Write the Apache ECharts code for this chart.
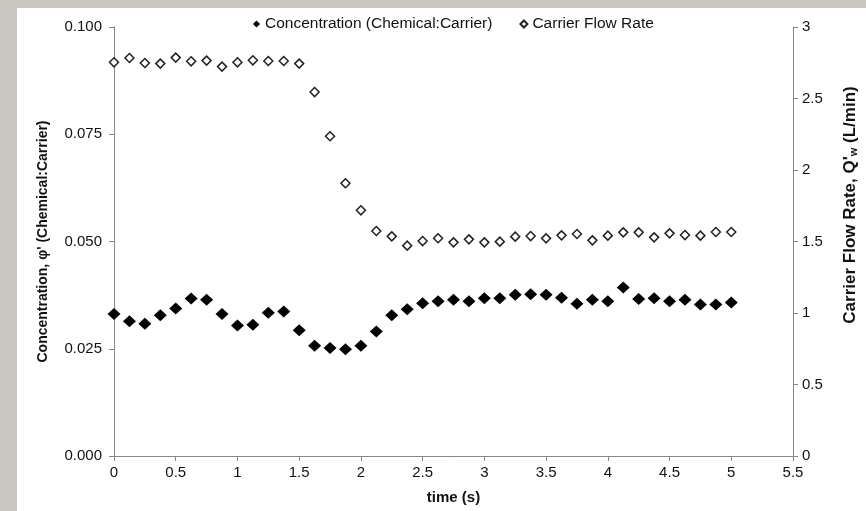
<!DOCTYPE html>
<html>
<head>
<meta charset="utf-8">
<script src="https://cdn.jsdelivr.net/npm/echarts@6/dist/echarts.min.js"></script>
<style>
  html, body { margin: 0; padding: 0; background: #cac6c1; }
  #main { width: 866px; height: 511px; }
</style>
</head>
<body>
<div id="main"></div>
<script>
var times = [0, 0.125, 0.25, 0.375, 0.5, 0.625, 0.75, 0.875, 1, 1.125, 1.25, 1.375, 1.5, 1.625,
    1.75, 1.875, 2, 2.125, 2.25, 2.375, 2.5, 2.625, 2.75, 2.875, 3, 3.125, 3.25, 3.375, 3.5,
    3.625, 3.75, 3.875, 4, 4.125, 4.25, 4.375, 4.5, 4.625, 4.75, 4.875, 5];

var concentration = [0.0331, 0.0314, 0.0308, 0.0328, 0.0344, 0.0367, 0.0364, 0.0331, 0.0304, 0.0306,
    0.0334, 0.0337, 0.0293, 0.0257, 0.0252, 0.0249, 0.0257, 0.0290, 0.0328, 0.0342,
    0.0356, 0.0361, 0.0364, 0.0361, 0.0368, 0.0368, 0.0376, 0.0377, 0.0376, 0.0369,
    0.0355, 0.0364, 0.0361, 0.0393, 0.0366, 0.0368, 0.0361, 0.0364, 0.0353, 0.0353, 0.0358];

var flowRate = [2.753, 2.783, 2.748, 2.744, 2.786, 2.760, 2.765, 2.723, 2.753, 2.767,
    2.762, 2.762, 2.744, 2.545, 2.236, 1.907, 1.718, 1.573, 1.536, 1.471,
    1.503, 1.523, 1.494, 1.515, 1.494, 1.499, 1.534, 1.538, 1.522, 1.543,
    1.552, 1.508, 1.541, 1.564, 1.564, 1.529, 1.557, 1.545, 1.541, 1.566, 1.566];

var seriesNames = ['Concentration (Chemical:Carrier)', 'Carrier Flow Rate'];

function pairs(xs, ys) {
    var out = [];
    for (var i = 0; i < xs.length; i++) out.push([xs[i], ys[i]]);
    return out;
}

var axisGrey = '#878787';
var font = 'Liberation Sans, Arial, sans-serif';

var chart = echarts.init(document.getElementById('main'), null, { renderer: 'canvas' });

chart.setOption({
    backgroundColor: 'transparent',
    animation: false,
    textStyle: { fontFamily: font },
    graphic: [{
        type: 'rect',
        z: -10,
        shape: { x: 17, y: 8, width: 849, height: 503 },
        style: { fill: '#ffffff' },
        silent: true
    }, {
        // right axis title, sits a bit above the middle like the original
        type: 'text',
        x: 850,
        y: 205,
        rotation: Math.PI / 2,
        style: {
            text: "Carrier Flow Rate, Q'{sub|w} (L/min)",
            align: 'center',
            verticalAlign: 'middle',
            fontSize: 17,
            fontWeight: 'bold',
            fontFamily: font,
            fill: '#111',
            rich: {
                sub: { fontSize: 11, fontWeight: 'bold', fontFamily: font, fill: '#111', padding: [7, 0, 0, 0] }
            }
        },
        silent: true
    }],
    legend: {
        top: 11,
        left: 248,
        itemWidth: 7,
        itemHeight: 7,
        itemGap: 27,
        textStyle: { fontSize: 15.5, color: '#111', fontFamily: font },
        data: seriesNames
    },
    grid: { left: 114, right: 73, top: 27, bottom: 55 },
    xAxis: {
        type: 'value',
        min: 0,
        max: 5.5,
        interval: 0.5,
        name: 'time (s)',
        nameLocation: 'middle',
        nameGap: 34,
        nameTextStyle: { fontSize: 15, fontWeight: 'bold', color: '#111' },
        axisLine: { lineStyle: { color: axisGrey } },
        axisTick: { show: true, inside: false, length: 5, lineStyle: { color: axisGrey } },
        axisLabel: { fontSize: 15, color: '#111', margin: 9 },
        splitLine: { show: false }
    },
    yAxis: [{
        type: 'value',
        position: 'left',
        min: 0,
        max: 0.1,
        interval: 0.025,
        name: "Concentration, \u03c6' (Chemical:Carrier)",
        nameLocation: 'middle',
        nameRotate: 90,
        nameGap: 64,
        nameTextStyle: { fontSize: 14, fontWeight: 'bold', color: '#111' },
        axisLine: { show: true, lineStyle: { color: axisGrey } },
        axisTick: { show: true, length: 5, lineStyle: { color: axisGrey } },
        axisLabel: {
            fontSize: 15, color: '#111', margin: 12,
            formatter: function (v) { return v.toFixed(3); }
        },
        splitLine: { show: false }
    }, {
        type: 'value',
        position: 'right',
        min: 0,
        max: 3,
        interval: 0.5,
        axisLine: { show: true, lineStyle: { color: axisGrey } },
        axisTick: { show: true, length: 5, lineStyle: { color: axisGrey } },
        axisLabel: { fontSize: 15, color: '#111', margin: 9 },
        splitLine: { show: false }
    }],
    series: [{
        name: seriesNames[0],
        type: 'scatter',
        yAxisIndex: 0,
        symbol: 'diamond',
        symbolSize: [13, 12],
        itemStyle: { color: '#000', opacity: 1 },
        data: pairs(times, concentration)
    }, {
        name: seriesNames[1],
        type: 'scatter',
        yAxisIndex: 1,
        symbol: 'diamond',
        symbolSize: [9, 9],
        itemStyle: { color: '#fff', borderColor: '#222', borderWidth: 1.5, opacity: 1 },
        data: pairs(times, flowRate)
    }]
});
</script>
</body>
</html>
